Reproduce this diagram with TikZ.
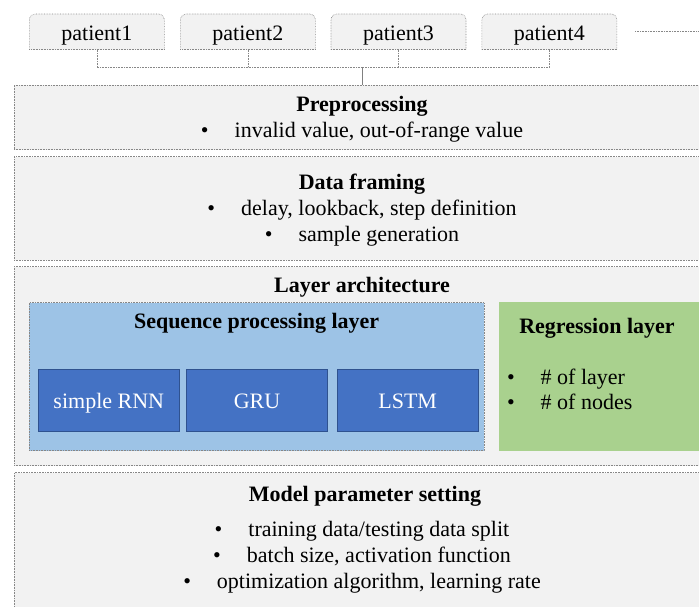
\documentclass[tikz,border=0pt]{standalone}
\usepackage{fontspec}
\setmainfont{Liberation Serif}
\definecolor{panelgray}{HTML}{F2F2F2}
\definecolor{bordergray}{HTML}{878787}
\definecolor{seqblue}{HTML}{9DC3E6}
\definecolor{cellblue}{HTML}{4472C4}
\definecolor{cellborder}{HTML}{2F528F}
\definecolor{reggreen}{HTML}{A9D18E}
\begin{document}
\begin{tikzpicture}[x=1pt,y=-1pt,
  every node/.style={font=\fontsize{22}{26}\selectfont, inner sep=0pt, outer sep=0pt},
  panel/.style={draw=bordergray, densely dotted, line width=0.6pt, fill=panelgray},
  seqbox/.style={draw=bordergray, densely dotted, line width=0.6pt, fill=seqblue},
  regbox/.style={fill=reggreen},
  cell/.style={draw=cellborder, line width=0.8pt, fill=cellblue, minimum width=141pt, minimum height=61.7pt},
  slot/.style={minimum width=135pt, minimum height=35.7pt},
  pfill/.style={fill=panelgray},
  pline/.style={draw=bordergray, densely dotted, line width=0.6pt},
  link/.style={draw=bordergray, densely dotted, line width=0.6pt},
  trunk/.style={draw=gray, line width=0.7pt},
  txt/.style={anchor=base},
  title/.style={anchor=base, font=\fontsize{22}{26}\selectfont\bfseries},
  celltxt/.style={anchor=base, text=white},
  bul/.style={anchor=base west}
]
\useasboundingbox (0,0) rectangle (699,606);
\clip (0,0) rectangle (699,606);
\fill[white] (0,0) rectangle (699,606);

% patient slots
\node[slot] (p1) at (96.8,31.85) {};
\node[slot] (p2) at (247.9,31.85) {};
\node[slot] (p3) at (398.5,31.85) {};
\node[slot] (p4) at (549.4,31.85) {};
\foreach \p in {p1,p2,p3,p4}{
  \fill[pfill, rounded corners=6pt] (\p.south west) -- (\p.north west) -- (\p.north east) -- (\p.south east);
  \draw[pline, rounded corners=6pt] (\p.south west) -- (\p.north west) -- (\p.north east) -- (\p.south east);
  \draw[pline] (\p.south west) -- (\p.south east);
}
\node[txt] (p1t) at (96.8,40.7) {patient1};
\node[txt] (p2t) at (247.9,40.7) {patient2};
\node[txt] (p3t) at (398.5,40.7) {patient3};
\node[txt] (p4t) at (549.4,40.7) {patient4};

% panels
\node[panel, minimum width=696pt, minimum height=64.7pt] (pre) at (362,117.35) {};
\node[panel, minimum width=696pt, minimum height=103.3pt] (frm) at (362,208.35) {};
\node[panel, minimum width=696pt, minimum height=199pt] (arc) at (362,366.2) {};
\node[panel, minimum width=696pt, minimum height=150pt] (par) at (362,547.7) {};
\node[seqbox, minimum width=454.7pt, minimum height=148pt] (seq) at (256.65,376.5) {};
\node[regbox, minimum width=210pt, minimum height=148.4pt] (reg) at (603.7,376.5) {};
\node[cell] (rnn) at (108.8,400.2) {};
\node[cell] (gru) at (257,400.2) {};
\node[cell] (lstm) at (407.7,400.2) {};

% connectors
\coordinate (hub) at (362,67.3);
\coordinate (tail) at (699,31);
\draw[link] (p1.south) |- (hub);
\draw[link] (p4.south) |- (hub);
\draw[link] (p2.south) -- (p2.south |- hub);
\draw[link] (p3.south) -- (p3.south |- hub);
\draw[trunk] (hub) -- (pre.north);
\draw[link] ([xshift=18.3pt]p4.east |- tail) -- (tail);

% texts
\node[title] (pret) at (362,111.7) {Preprocessing};
\node[txt] (pre1) at (362,137.7) {\textbullet\hspace{26pt}invalid value, out-of-range value};

\node[title] (frmt) at (362,189.3) {Data framing};
\node[txt] (frm1) at (362,215) {\textbullet\hspace{26pt}delay, lookback, step definition};
\node[txt] (frm2) at (362,241) {\textbullet\hspace{26pt}sample generation};

\node[title] (arct) at (362,292.5) {Layer architecture};
\node[title] (seqt) at (256.65,328.3) {Sequence processing layer};
\node[title] (regt) at (597,333.3) {Regression layer};
\node[bul] (reg1) at (507,384) {\textbullet\hspace{26pt}\# of layer};
\node[bul] (reg2) at (507,409.3) {\textbullet\hspace{26pt}\# of nodes};
\node[celltxt] (rnnt) at (108.8,408.3) {simple RNN};
\node[celltxt] (grut) at (257,408.3) {GRU};
\node[celltxt] (lstmt) at (407.7,408.3) {LSTM};

\node[title] (part) at (365,501) {Model parameter setting};
\node[txt] (par1) at (362,536.7) {\textbullet\hspace{26pt}training data/testing data split};
\node[txt] (par2) at (362,562.3) {\textbullet\hspace{26pt}batch size, activation function};
\node[txt] (par3) at (362,588.3) {\textbullet\hspace{26pt}optimization algorithm, learning rate};
\end{tikzpicture}
\end{document}
